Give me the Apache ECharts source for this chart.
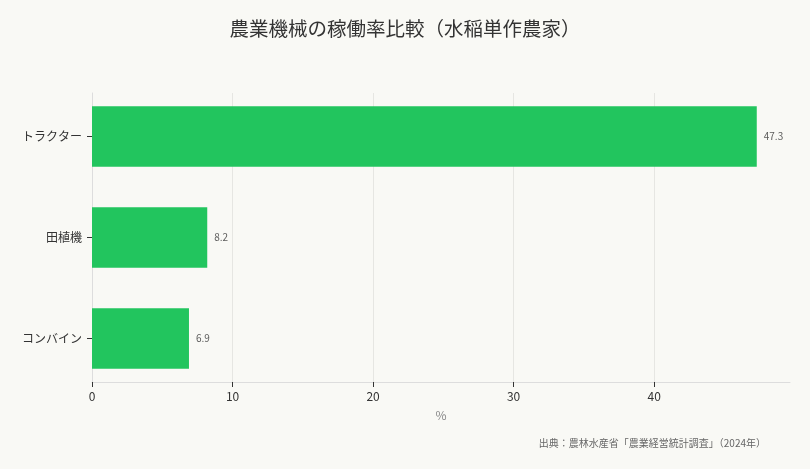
<!DOCTYPE html>
<html>
<head>
	<meta charset="utf-8" />
	<title>農業機械の稼働率比較</title>
	<script type="text/javascript" src="https://cdn.jsdelivr.net/npm/echarts@6/dist/echarts.min.js"></script>
	<style>
		html, body {margin:0;padding:0;height:100%;background:#f9f9f5;}
		#chart {width:810px;height:469px;}
	</style>
</head>
<body>
	<div id="chart"></div>

	<script>
		// 機械の種類（上から順）
		var machines = ['トラクター', '田植機', 'コンバイン'];
		// 稼働率（%）
		var rates = [47.3, 8.2, 6.9];
		var xTicks = [0, 10, 20, 30, 40];

		// [稼働率, 行番号]
		var points = rates.map((v, i) => [v, i]);
		var rows = machines.map((m, i) => i);

		var chart = echarts.init(document.getElementById('chart'));

		var option = {
			backgroundColor: '#f9f9f5',
			textStyle: {
				fontFamily: 'Noto Sans CJK JP'
			},
			title: {
				text: '農業機械の稼働率比較（水稲単作農家）',
				left: 'center',
				top: 14,
				textStyle: {
					fontSize: 19.5,
					fontWeight: 'normal',
					color: '#333'
				}
			},
			graphic: [
				{
					type: 'text',
					right: 44,
					top: 438,
					style: {
						text: '出典：農林水産省「農業経営統計調査」（2024年）',
						fontSize: 10,
						fill: '#666',
						fontFamily: 'Noto Sans CJK JP'
					}
				}
			],
			grid: {
				left: 92,
				right: 20,
				top: 93,
				bottom: 87
			},
			xAxis: {
				type: 'value',
				min: 0,
				max: 49.665,
				interval: 10,
				name: '%',
				nameLocation: 'middle',
				nameGap: 27,
				nameTextStyle: {color: '#888', fontSize: 12},
				axisLine: {show: true, onZero: false, lineStyle: {color: '#ddd'}},
				axisTick: {show: true, customValues: xTicks, lineStyle: {color: '#333'}},
				axisLabel: {
					color: '#333',
					fontSize: 12,
					customValues: xTicks
				},
				splitLine: {show: true, lineStyle: {color: '#e6e6e2'}}
			},
			yAxis: {
				type: 'value',
				inverse: true,
				min: -0.43,
				max: 2.43,
				axisLine: {show: true, onZero: false, lineStyle: {color: '#ddd'}},
				axisTick: {show: true, customValues: rows, lineStyle: {color: '#333'}},
				axisLabel: {
					color: '#333',
					fontSize: 12,
					margin: 10,
					customValues: rows,
					formatter: function (v) { return machines[Math.round(v)] || ''; }
				},
				splitLine: {show: false}
			},
			series: [
				{
					type: 'custom',
					data: points,
					encode: {x: 0, y: 1},
					renderItem: function (params, api) {
						var start = api.coord([0, api.value(1)]);
						var end = api.coord([api.value(0), api.value(1)]);
						var h = api.size([0, 0.6])[1];
						return {
							type: 'rect',
							shape: {x: start[0], y: start[1] - h / 2, width: end[0] - start[0], height: h},
							style: {fill: '#22c55e'}
						};
					}
				},
				{
					type: 'scatter',
					data: points,
					symbolSize: 0,
					silent: true,
					label: {
						show: true,
						position: 'right',
						distance: 7,
						fontSize: 10,
						color: '#333',
						formatter: function (p) { return String(p.value[0]); }
					}
				}
			]
		};

		chart.setOption(option);
		window.addEventListener('resize', chart.resize);
	</script>
</body>
</html>
